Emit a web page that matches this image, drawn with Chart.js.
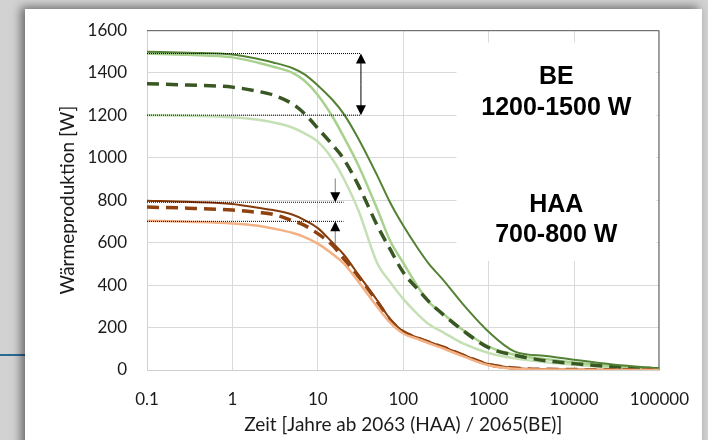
<!DOCTYPE html>
<html>
<head>
<meta charset="utf-8">
<script src="https://cdn.jsdelivr.net/npm/chart.js@4.4.1/dist/chart.umd.min.js"></script>
<style>
  html, body { margin: 0; padding: 0; }
  body { width: 708px; height: 440px; overflow: hidden; background: #d2d2d2; position: relative; }
  #bar { position: absolute; left: 0; top: 354px; width: 30px; height: 2px; background: #2c6a96; }
  #card { position: absolute; left: 25px; top: 9px; width: 677px; height: 445px; background: #fff;
          box-shadow: -4px -2px 9px rgba(0,0,0,0.5); }
  #chart { position: absolute; left: 0; top: 0; }
</style>
</head>
<body>
<div id="bar"></div>
<div id="card"></div>
<canvas id="chart" width="708" height="440"></canvas>
<script>
// Zeit in Jahren (log x-axis)
var years = [0.1, 0.3, 1, 2, 3, 5, 7, 10, 15, 20, 30, 50, 70, 100, 150, 200, 300, 500, 1000, 2000, 5000, 10000, 30000, 100000];

// BE (Brennelemente), Wärmeproduktion in W
var beMax    = [1498, 1494, 1486, 1464, 1448, 1422, 1392, 1340, 1270, 1207, 1088, 913, 790, 680, 570, 500, 420, 310, 180, 88, 65, 48, 25, 8];
var beHigh   = [1490, 1484, 1472, 1447, 1428, 1400, 1362, 1295, 1190, 1100, 962, 755, 610, 505, 390, 320, 262, 188, 110, 72, 50, 35, 18, 8];
var beMean   = [1348, 1342, 1332, 1312, 1295, 1254, 1207, 1138, 1058, 995, 868, 678, 570, 460, 378, 322, 258, 186, 105, 70, 42, 30, 15, 5];
var beMin    = [1200, 1197, 1190, 1178, 1166, 1142, 1114, 1075, 990, 903, 750, 500, 415, 335, 260, 215, 175, 125, 80, 55, 35, 25, 12, 4];

// HAA (Glaskokillen), Wärmeproduktion in W
var haaMax   = [797, 792, 782, 764, 753, 732, 706, 668, 598, 545, 448, 326, 241, 182, 152, 133, 108, 72, 28, 10, 4, 2, 1, 0];
var haaMean  = [767, 762, 753, 742, 733, 704, 681, 642, 586, 525, 440, 320, 236, 180, 150, 131, 106, 70, 26, 9, 3, 2, 1, 0];
var haaMin   = [703, 698, 690, 679, 666, 646, 626, 595, 545, 503, 415, 296, 224, 172, 145, 126, 100, 65, 22, 6, 2, 1, 0, 0];

var xTicks = [0.1, 1, 10, 100, 1000, 10000, 100000];
var xTickLabels = ['0.1', '1', '10', '100', '1000', '10000', '100000'];

// Bandbreiten (Hilfslinien und Pfeile)
var beRange = [1490, 1200];
var haaRange = [790, 700];
var beRangeEnd = 32;
var haaRangeEnd = 20;
var beArrowAt = 32;
var haaArrowAt = 16;
var haaArrowFrom = [902, 589];

function pts(vals) {
    return vals.map(function (v, i) { return { x: years[i], y: v }; });
}

function hline(v, end) {
    return [{ x: 0.1, y: v }, { x: end, y: v }];
}

function curve(label, vals, color, width, dash) {
    return {
        label: label, data: pts(vals), borderColor: color, borderWidth: width,
        borderDash: dash || [], pointRadius: 0, cubicInterpolationMode: 'monotone', fill: false
    };
}

function dotted(v, end) {
    return {
        label: 'ref', data: hline(v, end), borderColor: '#000', borderWidth: 1,
        borderDash: [1, 1], pointRadius: 0, fill: false
    };
}

var datasets = [
    dotted(beRange[0], beRangeEnd),
    dotted(beRange[1], beRangeEnd),
    dotted(haaRange[0], haaRangeEnd),
    dotted(haaRange[1], haaRangeEnd),
    curve('HAA min', haaMin, '#f4b183', 2.5),
    curve('HAA mittel', haaMean, '#8f4210', 3.5, [12, 7]),
    curve('HAA max', haaMax, '#843c0c', 2),
    curve('BE max', beMax, '#548235', 2),
    curve('BE mittel', beMean, '#385723', 3.5, [12, 7]),
    curve('BE hoch', beHigh, '#a9d18e', 2.5),
    curve('BE min', beMin, '#c5e0b4', 2.5)
];

function arrow(ctx, x, yFrom, yTip, lineColor) {
    var dir = yTip > yFrom ? 1 : -1;
    ctx.save();
    ctx.strokeStyle = lineColor;
    ctx.lineWidth = 1;
    ctx.beginPath();
    ctx.moveTo(x, yFrom);
    ctx.lineTo(x, yTip - dir * 8);
    ctx.stroke();
    ctx.fillStyle = '#000';
    ctx.beginPath();
    ctx.moveTo(x, yTip);
    ctx.lineTo(x - 5, yTip - dir * 10);
    ctx.lineTo(x + 5, yTip - dir * 10);
    ctx.closePath();
    ctx.fill();
    ctx.restore();
}

var extras = {
    id: 'extras',
    beforeDatasetsDraw: function (chart) {
        var ctx = chart.ctx, a = chart.chartArea;
        var xs = chart.scales.x, ys = chart.scales.y;
        // white text box hiding the grid
        ctx.save();
        ctx.fillStyle = '#fff';
        var bx = xs.getPixelForValue(420), by = ys.getPixelForValue(1542);
        ctx.fillRect(bx, by, a.right - 3 - bx, ys.getPixelForValue(514) - by);
        // frame top and right
        ctx.strokeStyle = '#595959';
        ctx.lineWidth = 1;
        ctx.beginPath();
        ctx.moveTo(a.left, a.top + 0.5);
        ctx.lineTo(a.right - 0.5, a.top + 0.5);
        ctx.lineTo(a.right - 0.5, a.bottom);
        ctx.stroke();
        ctx.restore();
    },
    afterDatasetsDraw: function (chart) {
        var ctx = chart.ctx;
        var xs = chart.scales.x, ys = chart.scales.y;
        var bx = xs.getPixelForValue(beArrowAt);
        var y1 = ys.getPixelForValue(beRange[0]), y2 = ys.getPixelForValue(beRange[1]);
        var ym = (y1 + y2) / 2;
        arrow(ctx, bx, ym, y1, '#000');
        arrow(ctx, bx, ym, y2, '#000');
        var hx = xs.getPixelForValue(haaArrowAt);
        arrow(ctx, hx, ys.getPixelForValue(haaArrowFrom[0]), ys.getPixelForValue(haaRange[0]), '#808080');
        arrow(ctx, hx, ys.getPixelForValue(haaArrowFrom[1]), ys.getPixelForValue(haaRange[1]), '#808080');

        ctx.save();
        ctx.fillStyle = '#000';
        ctx.font = 'bold 25px "Liberation Sans", Arial, sans-serif';
        ctx.textAlign = 'center';
        ctx.textBaseline = 'alphabetic';
        var tx = xs.getPixelForValue(6200);
        ctx.fillText('BE', tx, ys.getPixelForValue(1349));
        ctx.fillText('1200-1500 W', tx, ys.getPixelForValue(1199));
        ctx.fillText('HAA', tx, ys.getPixelForValue(744));
        ctx.fillText('700-800 W', tx, ys.getPixelForValue(603));
        ctx.restore();
    }
};

var tickFont = { family: 'Lato, "Open Sans", sans-serif', size: 17 };
var titleFont = { family: 'Lato, "Open Sans", sans-serif', size: 19 };

new Chart(document.getElementById('chart'), {
    type: 'line',
    data: { datasets: datasets },
    options: {
        responsive: false,
        animation: false,
        layout: { padding: { left: 0, top: 29, right: 48, bottom: 0 } },
        plugins: { legend: { display: false }, tooltip: { enabled: false } },
        scales: {
            x: {
                type: 'logarithmic', min: 0.1, max: 100000,
                afterBuildTicks: function (scale) {
                    scale.ticks = xTicks.map(function (v) { return { value: v }; });
                },
                afterFit: function (scale) { scale.height = 70; },
                ticks: {
                    color: '#1a1a1a', font: tickFont, padding: 19, maxRotation: 0, autoSkip: false,
                    callback: function (value) {
                        var i = xTicks.indexOf(value);
                        return i >= 0 ? xTickLabels[i] : '';
                    }
                },
                grid: { color: '#d9d9d9', drawTicks: false },
                border: { color: '#d0d0d0' },
                title: { display: true, text: 'Zeit [Jahre ab 2063 (HAA) / 2065(BE)]', color: '#1a1a1a',
                         font: titleFont, padding: { top: 0, bottom: 4 } }
            },
            y: {
                min: 0, max: 1600,
                afterFit: function (scale) { scale.width = 147; },
                ticks: {
                    stepSize: 200, color: '#1a1a1a', font: tickFont, padding: 20,
                    callback: function (value) { return String(value); }
                },
                grid: { color: '#d9d9d9', drawTicks: false },
                border: { color: '#d0d0d0' },
                title: { display: true, text: 'Wärmeproduktion [W]', color: '#1a1a1a',
                         font: titleFont, padding: { top: 56, bottom: 0 } }
            }
        }
    },
    plugins: [extras]
});
</script>
</body>
</html>
